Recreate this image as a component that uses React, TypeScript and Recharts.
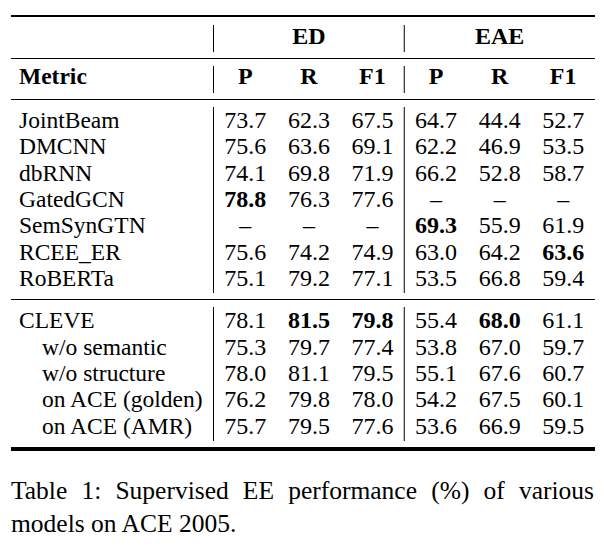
import React from "react";
import { ReferenceLine, Scatter, ScatterChart, XAxis, YAxis } from "recharts";

// table content
const groups = ["ED", "EAE"];
const metrics = ["P", "R", "F1"];

const baselineModels = ["JointBeam", "DMCNN", "dbRNN", "GatedGCN", "SemSynGTN", "RCEE_ER", "RoBERTa"];
const jointBeam = [73.7, 62.3, 67.5, 64.7, 44.4, 52.7];
const dmcnn = [75.6, 63.6, 69.1, 62.2, 46.9, 53.5];
const dbRnn = [74.1, 69.8, 71.9, 66.2, 52.8, 58.7];
const gatedGcn = [78.8, 76.3, 77.6, null, null, null];
const semSynGtn = [null, null, null, 69.3, 55.9, 61.9];
const rceeEr = [75.6, 74.2, 74.9, 63.0, 64.2, 63.6];
const roberta = [75.1, 79.2, 77.1, 53.5, 66.8, 59.4];

const cleveModels = ["CLEVE", "w/o semantic", "w/o structure", "on ACE (golden)", "on ACE (AMR)"];
const cleve = [78.1, 81.5, 79.8, 55.4, 68.0, 61.1];
const woSemantic = [75.3, 79.7, 77.4, 53.8, 67.0, 59.7];
const woStructure = [78.0, 81.1, 79.5, 55.1, 67.6, 60.7];
const aceGolden = [76.2, 79.8, 78.0, 54.2, 67.5, 60.1];
const aceAmr = [75.7, 79.5, 77.6, 53.6, 66.9, 59.5];

const caption1 = "Table 1: Supervised EE performance (%) of various";
const caption2 = "models on ACE 2005.";

const baselineRows = [jointBeam, dmcnn, dbRnn, gatedGcn, semSynGtn, rceeEr, roberta];
const cleveRows = [cleve, woSemantic, woStructure, aceGolden, aceAmr];

const FONT = "'Liberation Serif', 'Times New Roman', serif";

type Cell = { col: number; row: number; text: string; bold: boolean };

// best value per column is set in bold
const allRows = [...baselineRows, ...cleveRows];
const colBest = groups
  .flatMap((_, g) => metrics.map((__, m) => g * 3 + m))
  .map((c) => Math.max(...allRows.map((r) => (r[c] == null ? -1 : (r[c] as number)))));

function toCells(rows: (number | null)[][]): Cell[] {
  return rows.flatMap((r, row) =>
    r.map((v, col) => ({
      col,
      row,
      text: v == null ? "–" : v.toFixed(1),
      bold: v != null && v === colBest[col],
    }))
  );
}

const groupCells: Cell[] = groups.map((g, i) => ({ col: i * 3 + 1, row: 0, text: g, bold: true }));
const metricCells: Cell[] = groups.flatMap((_, g) =>
  metrics.map((m, i) => ({ col: g * 3 + i, row: 0, text: m, bold: true }))
);

const renderCell = (props: any) => {
  const p = props.payload as Cell;
  return (
    <text
      x={props.cx}
      y={props.cy}
      textAnchor="middle"
      dominantBaseline="central"
      fontFamily={FONT}
      fontSize={24}
      fontWeight={p.bold ? 700 : 400}
      fill="#000"
    >
      {p.text}
    </text>
  );
};

function TableBlock({
  top,
  height,
  plotTop,
  plotBottom,
  padBottom,
  labels,
  cells,
  bold = false,
  indentFrom = 99,
}: {
  top: number;
  height: number;
  plotTop: number;
  plotBottom: number;
  padBottom: number;
  labels: string[];
  cells: Cell[];
  bold?: boolean;
  indentFrom?: number;
}) {
  const n = labels.length;
  const RowLabel = (props: any) => {
    const i = props.payload.value as number;
    return (
      <text
        x={i >= indentFrom ? 42 : 19}
        y={props.y}
        dominantBaseline="central"
        fontFamily={FONT}
        fontSize={23.5}
        fontWeight={bold ? 700 : 400}
        fill="#000"
      >
        {labels[i]}
      </text>
    );
  };
  return (
    <div style={{ position: "absolute", left: 0, top }}>
      <ScatterChart width={604} height={height} margin={{ top: plotTop, right: 9, bottom: plotBottom, left: 0.5 }}>
        <XAxis type="number" dataKey="col" domain={[-0.5, 5.5]} hide />
        <YAxis
          type="number"
          dataKey="row"
          domain={[-0.5, n - 0.5]}
          reversed
          width={213}
          ticks={labels.map((_, i) => i)}
          interval={0}
          axisLine={false}
          tickLine={false}
          padding={{ top: 0, bottom: padBottom }}
          tick={RowLabel}
        />
        <ReferenceLine x={-0.5} stroke="#000" strokeWidth={1} />
        <ReferenceLine x={2.5} stroke="#000" strokeWidth={1} />
        <Scatter data={cells} isAnimationActive={false} shape={renderCell} />
      </ScatterChart>
    </div>
  );
}

const Rule = ({ y, h }: { y: number; h: number }) => (
  <div style={{ position: "absolute", left: 11, width: 584, top: y, height: h, background: "#000" }} />
);

export default function App() {
  return (
    <div style={{ position: "absolute", left: 0, top: 0, width: 604, height: 546, background: "#fff", overflow: "hidden" }}>
      <Rule y={15} h={2.4} />
      <TableBlock top={17} height={41} plotTop={8} plotBottom={6} padBottom={5} labels={[""]} cells={groupCells} />
      <Rule y={58} h={1.2} />
      <TableBlock top={59} height={40} plotTop={7} plotBottom={6} padBottom={7} labels={["Metric"]} cells={metricCells} bold />
      <Rule y={99} h={1.2} />
      <TableBlock top={100} height={199} plotTop={7} plotBottom={6} padBottom={2} labels={baselineModels} cells={toCells(baselineRows)} />
      <Rule y={299.3} h={1.2} />
      <TableBlock top={300} height={146} plotTop={7} plotBottom={5} padBottom={2} labels={cleveModels} cells={toCells(cleveRows)} indentFrom={1} />
      <Rule y={446.5} h={4} />
      <div
        style={{
          position: "absolute",
          left: 11,
          top: 474,
          width: 583,
          fontFamily: FONT,
          fontSize: 25.5,
          lineHeight: "33px",
          color: "#000",
        }}
      >
        <div style={{ textAlign: "justify", textAlignLast: "justify", whiteSpace: "nowrap" }}>{caption1}</div>
        <div>{caption2}</div>
      </div>
    </div>
  );
}
